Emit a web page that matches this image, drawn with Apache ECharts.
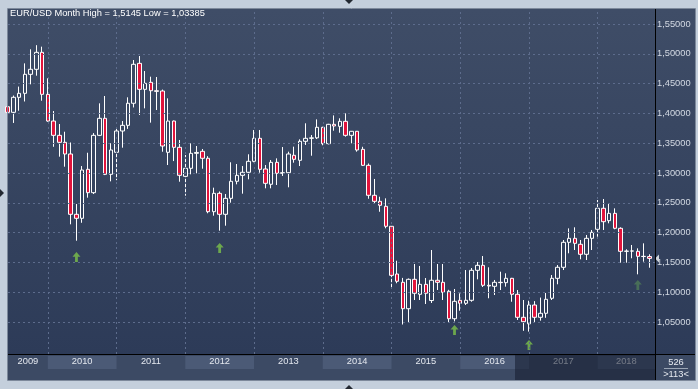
<!DOCTYPE html>
<html><head><meta charset="utf-8">
<script src="https://cdn.jsdelivr.net/npm/echarts@6/dist/echarts.min.js"></script>
<style>html,body{margin:0;padding:0;background:#c4cfdc;}#c{width:698px;height:389px;}</style>
</head><body><div id="c"></div>
<script>
// ---- data (EUR/USD monthly, Jun 2009 .. Oct 2018) ----
const years = ['2009','2010','2011','2012','2013','2014','2015','2016','2017','2018'];
const yearStartIdx = [-5, 7, 19, 31, 43, 55, 67, 79, 91, 103];
const open = [1.4112,1.4018,1.4270,1.4337,1.4656,1.4740,1.5025,1.4320,1.3872,1.3632,
1.3515,1.3319,1.2307,1.2240,1.3062,1.2670,1.3632,1.3918,1.2978,1.3347,
1.3705,1.3800,1.4170,1.4840,1.4404,1.4522,1.4381,1.4376,1.3347,1.3872,
1.3431,1.2944,1.3079,1.3330,1.3364,1.3247,1.2351,1.2659,1.2307,1.2575,
1.2861,1.2961,1.3012,1.3196,1.3582,1.3067,1.2811,1.3179,1.2995,1.3005,
1.3297,1.3213,1.3532,1.3582,1.3590,1.3767,1.3492,1.3817,1.3783,1.3867,
1.3632,1.3700,1.3397,1.3129,1.2626,1.2525,1.2441,1.2106,1.1305,1.1166,
1.0723,1.1216,1.0965,1.1132,1.0860,1.1200,1.1166,1.1015,1.0555,1.0864,
1.0814,1.0864,1.1367,1.1451,1.1116,1.1099,1.1166,1.1160,1.1233,1.0965,
1.0579,1.0470,1.0785,1.0579,1.0646,1.0898,1.1233,1.1418,1.1837,1.1904,
1.1804,1.1636,1.1904,1.2056,1.2408,1.2200,1.2323,1.2072,1.1686,1.1690,
1.1686,1.1602,1.1598];
const high = [1.4339,1.4300,1.4450,1.4840,1.5076,1.5145,1.5120,1.4589,1.4040,1.3822,
1.3693,1.3512,1.2480,1.3117,1.3340,1.3670,1.4169,1.4292,1.3500,1.3767,
1.3872,1.4270,1.4896,1.4963,1.4711,1.4616,1.4611,1.4400,1.4253,1.3880,
1.3554,1.3302,1.3498,1.3453,1.3403,1.3283,1.2754,1.2690,1.2648,1.3180,
1.3151,1.3117,1.3314,1.3721,1.3721,1.3134,1.3218,1.3246,1.3436,1.3358,
1.3442,1.3565,1.3834,1.3637,1.3900,1.3775,1.3825,1.3967,1.3918,1.4001,
1.3705,1.3705,1.3440,1.3160,1.2900,1.2602,1.2575,1.2110,1.1528,1.1240,
1.1230,1.1473,1.1440,1.1238,1.1708,1.1473,1.1473,1.1040,1.1054,1.0981,
1.1372,1.1406,1.1507,1.1607,1.1418,1.1205,1.1344,1.1317,1.1240,1.1037,
1.0869,1.0857,1.0850,1.0910,1.0987,1.1288,1.1456,1.1876,1.2071,1.2089,
1.1876,1.1960,1.2044,1.2547,1.2564,1.2480,1.2407,1.2089,1.1720,1.1792,
1.1736,1.1820,1.1636];
const low = [1.3747,1.3840,1.4045,1.4200,1.4488,1.4633,1.4213,1.3860,1.3440,1.3274,
1.3106,1.2139,1.1864,1.2165,1.2586,1.2647,1.3620,1.2965,1.2860,1.2880,
1.3425,1.3740,1.4100,1.3973,1.4085,1.3845,1.4057,1.3357,1.3134,1.3200,
1.2854,1.2619,1.2978,1.2995,1.3072,1.2324,1.2284,1.2032,1.2116,1.2502,
1.2810,1.2653,1.2894,1.3180,1.3005,1.2743,1.2743,1.2799,1.2950,1.2760,
1.3173,1.3117,1.3470,1.3290,1.3570,1.3465,1.3480,1.3710,1.3676,1.3610,
1.3498,1.3358,1.3117,1.2568,1.2492,1.2350,1.2072,1.1082,1.1150,1.0458,
1.0500,1.0869,1.0869,1.0802,1.0819,1.1037,1.0869,1.0500,1.0510,1.0689,
1.0785,1.0840,1.1216,1.1087,1.0898,1.0953,1.1037,1.1093,1.0840,1.0534,
1.0352,1.03385,1.0500,1.0522,1.0570,1.0869,1.1133,1.1372,1.1653,1.1708,
1.1552,1.1540,1.1708,1.1931,1.2044,1.2156,1.2056,1.1495,1.1495,1.1569,
1.1300,1.1512,1.1411];
const close = [1.4018,1.4270,1.4337,1.4656,1.4740,1.5025,1.4320,1.3872,1.3632,1.3515,
1.3319,1.2307,1.2240,1.3050,1.2670,1.3632,1.3918,1.2978,1.3386,1.3705,
1.3800,1.4170,1.4824,1.4404,1.4505,1.4381,1.4370,1.3453,1.3872,1.3431,
1.2961,1.3079,1.3330,1.3345,1.3247,1.2351,1.2659,1.2307,1.2575,1.2861,
1.2961,1.3012,1.3196,1.3582,1.3062,1.2827,1.3179,1.2995,1.3005,1.3319,
1.3230,1.3532,1.3582,1.3590,1.3767,1.3492,1.3817,1.3789,1.3867,1.3632,
1.3700,1.3386,1.3129,1.2626,1.2525,1.2458,1.2106,1.1283,1.1183,1.0723,
1.1216,1.0982,1.1132,1.0982,1.1200,1.1166,1.0998,1.0555,1.0847,1.0814,
1.0864,1.1367,1.1451,1.1116,1.1104,1.1166,1.1160,1.1233,1.0965,1.0579,
1.0505,1.0785,1.0579,1.0646,1.0881,1.1233,1.1418,1.1837,1.1904,1.1820,
1.1636,1.1904,1.2005,1.2408,1.2183,1.2323,1.2072,1.1686,1.1690,1.1692,
1.1602,1.1598,1.15675];
const yTicks = [1.05,1.10,1.15,1.20,1.25,1.30,1.35,1.40,1.45,1.50,1.55];
const signalIdx = [12, 37, 78, 91, 110];
const signalPrice = [1.1590, 1.1742, 1.0366, 1.0114, 1.1121];
const totalBars = 526;

// ---- layout / style ----
const FONT = 'Liberation Sans';
const X_MIN = 0.05, X_MAX = 113.0, Y_MIN = 0.9963, Y_MAX = 1.5752;
const fmt5 = v => v.toFixed(5).replace('.', ',');
const candles = open.map((o, i) => [i, o, close[i], low[i], high[i]]);
const lastClose = close[close.length - 1];
const hi = Math.max(...high), lo = Math.min(...low);
const titleText = 'EUR/USD Month High = ' + String(hi).replace('.', ',') + ' Low = ' + String(lo).replace('.', ',');

const yearSpan = k => [
  Math.max(X_MIN, yearStartIdx[k]),
  Math.min(X_MAX, k + 1 < years.length ? yearStartIdx[k + 1] : yearStartIdx[k] + 12)
];
const yearLabelPos = years.map((y, k) => { const s = yearSpan(k); return (s[0] + s[1]) / 2; });
const bands = [];
years.forEach((y, k) => {
  if (k % 2 === 1) { const s = yearSpan(k); bands.push([{ xAxis: s[0] }, { xAxis: s[1] }]); }
});
const yearOf = v => {
  let best = 0;
  yearLabelPos.forEach((p, k) => { if (Math.abs(p - v) < Math.abs(yearLabelPos[best] - v)) best = k; });
  return years[best];
};
const gridLines = yTicks.map(v => ({ yAxis: v }))
  .concat(yearStartIdx.filter(v => v > X_MIN).map(v => ({ xAxis: v })));

const arrowPath = 'path://M4,0 L8,4.6 L5.4,4.6 L5.4,10 L2.6,10 L2.6,4.6 L0,4.6 Z';

const chart = echarts.init(document.getElementById('c'), null, { renderer: 'canvas' });
chart.setOption({
  animation: false,
  backgroundColor: '#c4cfdc',
  textStyle: { fontFamily: FONT },
  title: {
    text: titleText, left: 10, top: 9, padding: 0,
    textStyle: { color: '#ffffff', fontSize: 9.3, fontWeight: 'normal', fontFamily: FONT }
  },
  grid: [
    { left: 8, top: 9, width: 647, height: 345, show: false },
    { left: 8, top: 356, width: 647, height: 13, show: false }
  ],
  xAxis: [
    {
      type: 'value', gridIndex: 0, min: X_MIN, max: X_MAX,
      axisLine: { show: false }, axisTick: { show: false }, splitLine: { show: false },
      axisLabel: { show: false }
    },
    {
      type: 'value', gridIndex: 1, min: X_MIN, max: X_MAX, position: 'top', z: 5,
      axisLine: { show: false }, axisTick: { show: false }, splitLine: { show: false },
      axisLabel: {
        show: true, inside: true, margin: 1,
        customValues: yearLabelPos,
        showMinLabel: true, showMaxLabel: true, hideOverlap: false,
        formatter: v => yearOf(v),
        color: '#e4e8ef', fontSize: 9.3, fontFamily: FONT
      }
    }
  ],
  yAxis: [
    {
      type: 'value', gridIndex: 0, position: 'right', min: Y_MIN, max: Y_MAX, scale: true,
      axisLine: { show: false }, axisTick: { show: false }, splitLine: { show: false },
      axisLabel: {
        customValues: yTicks, margin: 2, formatter: v => fmt5(v),
        color: '#d3d9e3', fontSize: 9.3, fontFamily: FONT
      }
    },
    { type: 'value', gridIndex: 1, min: 0, max: 1, show: false }
  ],
  series: [
    {
      type: 'line', xAxisIndex: 1, yAxisIndex: 1, data: [], z: -5, silent: true,
      markArea: { silent: true, itemStyle: { color: '#4b5a76' }, data: bands }
    },
    {
      type: 'line', xAxisIndex: 0, yAxisIndex: 0, data: [], z: 1, silent: true,
      markLine: {
        silent: true, symbol: ['none', 'none'], label: { show: false },
        lineStyle: { type: [2, 3], color: '#5d6c8c', width: 1 },
        emphasis: { disabled: true },
        data: gridLines
      }
    },
    {
      type: 'candlestick', xAxisIndex: 0, yAxisIndex: 0, data: candles, z: 2,
      barWidth: 4, clip: true,
      itemStyle: {
        color: 'rgba(0,0,0,0)', color0: '#e1143c',
        borderColor: '#ffffff', borderColor0: '#ffffff', borderWidth: 1
      }
    },
    {
      type: 'scatter', xAxisIndex: 0, yAxisIndex: 0, z: 3, silent: true,
      symbol: arrowPath, symbolSize: [8, 10],
      data: signalIdx.map((x, k) => ({
        value: [x, signalPrice[k]],
        itemStyle: { color: k === signalIdx.length - 1 ? '#4f7b57' : '#7cc24a' }
      }))
    },
    {
      type: 'line', xAxisIndex: 0, yAxisIndex: 0, data: [], z: 5, clip: false, silent: true,
      markLine: {
        silent: true, symbol: ['none', 'none'],
        lineStyle: { opacity: 0, width: 0 },
        label: {
          show: true, position: 'end', distance: 4,
          formatter: () => fmt5(lastClose),
          backgroundColor: '#cfd4db', color: '#2b2f38', fontSize: 9.3, fontFamily: FONT,
          padding: [1, 2, 1, 2]
        },
        data: [{ yAxis: lastClose }]
      },
      markPoint: {
        silent: true, symbol: 'triangle', symbolSize: [8, 4], symbolRotate: 90,
        symbolOffset: [2, 0], label: { show: false },
        itemStyle: { color: '#cfd4db' },
        data: [{ coord: [X_MAX, lastClose] }]
      }
    }
  ],
  graphic: [
    { type: 'rect', z: -10, silent: true, shape: { x: 8, y: 9, width: 687, height: 371 },
      style: { fill: new echarts.graphic.LinearGradient(0, 0, 0, 1, [
        { offset: 0, color: '#3f4d67' }, { offset: 0.93, color: '#2d3b58' }, { offset: 1, color: '#2b3956' }]) } },
    { type: 'rect', z: -9, silent: true, shape: { x: 8, y: 355, width: 687, height: 25 },
      style: { fill: '#3c4a64' } },
    { type: 'rect', z: 10, silent: true, shape: { x: 7.5, y: 8.5, width: 688, height: 372 },
      style: { fill: 'none', stroke: '#7d899b', lineWidth: 1 } },
    { type: 'line', z: 10, silent: true, shape: { x1: 8, y1: 354.5, x2: 695, y2: 354.5 },
      style: { stroke: '#000000', lineWidth: 1 } },
    { type: 'line', z: 10, silent: true, shape: { x1: 655.5, y1: 9, x2: 655.5, y2: 380 },
      style: { stroke: '#000000', lineWidth: 1 } },
    { type: 'rect', z: 50, silent: true, shape: { x: 515, y: 355, width: 140, height: 25 },
      style: { fill: 'rgba(20,28,46,0.55)' } },
    { type: 'text', z: 10, silent: true, x: 676, y: 362,
      style: { text: String(totalBars), fill: '#e6eaf0', font: '9.3px "Liberation Sans"', textAlign: 'center', textVerticalAlign: 'middle' } },
    { type: 'line', z: 10, silent: true, shape: { x1: 664, y1: 368.5, x2: 688, y2: 368.5 },
      style: { stroke: '#9aa5b5', lineWidth: 1 } },
    { type: 'text', z: 10, silent: true, x: 676, y: 374.5,
      style: { text: '>' + candles.length + '<', fill: '#e6eaf0', font: '9.3px "Liberation Sans"', textAlign: 'center', textVerticalAlign: 'middle' } },
    { type: 'polygon', z: 10, silent: true, shape: { points: [[345, 0], [353, 0], [349, 4]] }, style: { fill: '#222831' } },
    { type: 'polygon', z: 10, silent: true, shape: { points: [[345, 389], [353, 389], [349, 385]] }, style: { fill: '#222831' } },
    { type: 'polygon', z: 10, silent: true, shape: { points: [[0, 189], [0, 197], [4, 193]] }, style: { fill: '#222831' } }
  ]
});
</script></body></html>
